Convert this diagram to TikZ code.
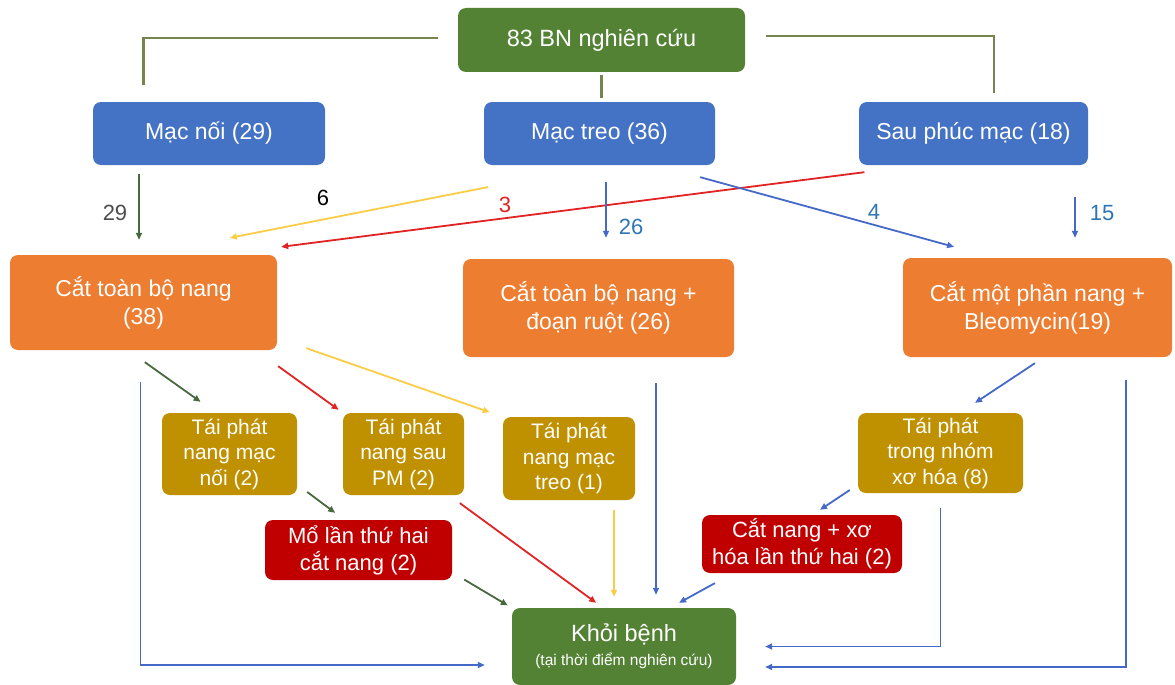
\documentclass[tikz,border=0pt]{standalone}
\usepackage{fontspec}
\setmainfont{Liberation Sans}
\usepackage{tikz}
\usetikzlibrary{arrows.meta}
\usetikzlibrary{calc}

\definecolor{bngreen}{RGB}{84,130,53}
\definecolor{bnblue}{RGB}{68,114,196}
\definecolor{bnorange}{RGB}{237,125,49}
\definecolor{bngold}{RGB}{191,144,0}
\definecolor{bnred}{RGB}{192,0,0}
\definecolor{trunkcol}{RGB}{118,133,78}
\definecolor{lgreen}{RGB}{72,104,62}
\definecolor{lred}{RGB}{225,35,35}
\definecolor{lyellow}{RGB}{250,205,70}
\definecolor{lblue}{RGB}{68,105,200}
\definecolor{labblue}{RGB}{46,117,182}

\begin{document}
\begin{tikzpicture}[x=1pt,y=-1pt,>={Triangle[length=7pt,width=6pt]},
  box/.style={rounded corners=8pt,text=white,align=center,inner sep=0pt,font=\fontsize{23}{28}\selectfont},
  tbox/.style={box,fill=bngold,font=\fontsize{21}{25.5}\selectfont},
  trunk/.style={draw=trunkcol,line width=2.5pt},
  arr/.style={->,line width=1.8pt},
  lab/.style={font=\fontsize{22}{26}\selectfont}]
\useasboundingbox (0,0) rectangle (1175,685);

\node[box,fill=bngreen,minimum width=287pt,minimum height=64pt,font=\fontsize{23.5}{28}\selectfont] (top) at (601.5,40) {83 BN nghiên cứu};
\node[box,fill=bnblue,minimum width=232pt,minimum height=63pt] (noi) at (209,133.5) {Mạc nối (29)};
\node[box,fill=bnblue,minimum width=231pt,minimum height=63pt] (treo) at (599.5,133.5) {Mạc treo (36)};
\node[box,fill=bnblue,minimum width=229pt,minimum height=63pt] (spm) at (973.5,133.5) {Sau phúc mạc (18)};
\node[box,fill=bnorange,minimum width=267pt,minimum height=95pt] (c38) at (143.5,302.5) {Cắt toàn bộ nang\\(38)};
\node[box,fill=bnorange,minimum width=271pt,minimum height=98pt] (c26) at (598.5,308) {Cắt toàn bộ nang +\\đoạn ruột (26)};
\node[box,fill=bnorange,minimum width=269pt,minimum height=99pt] (c19) at (1037.5,307.5) {Cắt một phần nang +\\Bleomycin(19)};
\node[tbox,minimum width=135pt,minimum height=82pt] (tf1) at (229.5,454) {Tái phát\\nang mạc\\nối (2)};
\node[tbox,minimum width=121pt,minimum height=82pt] (tf2) at (403.5,454) {Tái phát\\nang sau\\PM (2)};
\node[tbox,minimum width=132pt,minimum height=83pt] (tf3) at (569,458.5) {Tái phát\\nang mạc\\treo (1)};
\node[tbox,minimum width=165pt,minimum height=80pt] (tf4) at (940.5,453) {Tái phát\\trong nhóm\\xơ hóa (8)};
\node[box,fill=bnred,minimum width=187pt,minimum height=60pt,font=\fontsize{22}{27}\selectfont] (mo2) at (358.5,550) {Mổ lần thứ hai\\cắt nang (2)};
\node[box,fill=bnred,minimum width=200pt,minimum height=58pt,font=\fontsize{22}{27}\selectfont] (cn2) at (802,544) {Cắt nang + xơ\\hóa lần thứ hai (2)};
\node[box,fill=bngreen,minimum width=224pt,minimum height=77pt,font=\fontsize{23.5}{27}\selectfont] (khoi) at (624,646.5) {Khỏi bệnh\\[-3pt]{\fontsize{15.5}{18}\selectfont(tại thời điểm nghiên cứu)}};

\draw[trunk,shorten <=20pt,shorten >=17pt] ([yshift=2pt]top.west) -| ([xshift=-65.5pt]noi.north);
\draw[trunk,shorten <=3pt,shorten >=4pt] (top.south) -- (top.south |- treo.north);
\draw[trunk,shorten <=21pt,shorten >=9pt] ([yshift=4pt]top.east) -| ([xshift=20.5pt]spm.north);

\draw[arr,draw=lgreen,shorten <=9pt,shorten >=15pt] ([xshift=-4.5pt]c38.north |- noi.south) -- ([xshift=-4.5pt]c38.north);
\draw[arr,draw=lyellow,shorten <=113.5pt,shorten >=88pt] (treo.south) -- (c38.north);
\draw[arr,draw=lred,shorten <=55pt,shorten >=62.7pt] ([xshift=-54.5pt]spm.south) -- ([xshift=75.5pt]c38.north);
\draw[arr,draw=lblue,shorten <=17pt,shorten >=21pt] ([xshift=6.5pt]treo.south) -- ([xshift=6.5pt]treo.south |- c26.north);
\draw[arr,draw=lblue,shorten <=45.2pt,shorten >=41.4pt] ([xshift=57pt]treo.south) -- ([xshift=-43.5pt]c19.north);
\draw[arr,draw=lblue,shorten <=32pt,shorten >=20pt] ([xshift=101.5pt]spm.south) -- ([xshift=101.5pt]spm.south |- c19.north);

\draw[arr,draw=lgreen,shorten <=20.6pt,shorten >=18.9pt] ([xshift=-15.5pt]c38.south) -- ([xshift=-13.5pt]tf1.north);
\draw[arr,draw=lred,shorten <=27.3pt,shorten >=5.1pt] ([xshift=112.5pt]c38.south) -- (tf2.north west);
\draw[arr,draw=lyellow,shorten <=30.7pt,shorten >=13.8pt] ([yshift=-35.5pt]c38.east) -- (tf3.north west);
\draw[arr,draw=lblue,shorten <=32pt,shorten >=27pt] ([xshift=-3pt]c38.south) |- ([yshift=-18.5pt]khoi.west);
\draw[arr,draw=lblue,shorten <=26pt,shorten >=13pt] ([xshift=57.5pt]c26.south) -- ([xshift=57.5pt]c26.south |- khoi.north);
\draw[arr,draw=lblue,shorten <=10.8pt,shorten >=18pt] ([xshift=6.5pt]c19.south) -- ([xshift=19.5pt]tf4.north);
\draw[arr,draw=lblue,shorten <=23pt,shorten >=29pt] ([xshift=88.5pt]c19.south) |- ([yshift=-20.5pt]khoi.east);

\draw[arr,draw=lgreen,shorten <=12.5pt,shorten >=11.6pt] ([yshift=-30.5pt]tf1.east) -- ([xshift=-14pt]mo2.north);
\draw[arr,draw=lred,shorten <=13.5pt,shorten >=8.5pt] ([xshift=45.5pt]tf2.south) -- ([xshift=-21pt]khoi.north);
\draw[arr,draw=lyellow,shorten <=10pt,shorten >=11pt] ([xshift=45pt]tf3.south) -- ([xshift=45pt]tf3.south |- khoi.north);
\draw[arr,draw=lblue,shorten <=9.6pt,shorten >=9pt] ([yshift=-31.7pt]tf4.west) -- ([xshift=10.5pt]cn2.north);
\draw[arr,draw=lblue,shorten <=15pt,shorten >=29pt] (tf4.south) |- (khoi.east);
\draw[arr,draw=lgreen,shorten <=14pt,shorten >=4.7pt] ([yshift=-22.4pt]mo2.east) -- (khoi.north west);
\draw[arr,draw=lblue,shorten <=20.6pt,shorten >=10.3pt] ([xshift=-69pt]cn2.south) -- ([xshift=46pt]khoi.north);

\node[lab,text=black!70] (l29) at (115,213) {29};
\node[lab,text=black] (l6) at (323,198) {6};
\node[lab,text=lred] (l3) at (505,205) {3};
\node[lab,text=labblue] (l26) at (631,227) {26};
\node[lab,text=labblue] (l4) at (874,212) {4};
\node[lab,text=labblue] (l15) at (1102,213) {15};

\end{tikzpicture}
\end{document}
